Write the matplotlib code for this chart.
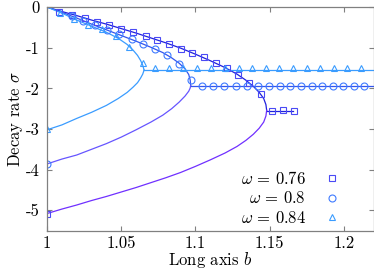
import matplotlib
matplotlib.use("Agg")
import matplotlib.pyplot as plt
from matplotlib.lines import Line2D

plt.rcParams['font.family'] = 'cmr10'
plt.rcParams['mathtext.fontset'] = 'cm'
plt.rcParams['axes.unicode_minus'] = False
plt.rcParams['axes.formatter.use_mathtext'] = True

# --- omega = 0.76 -------------------------------------------------------
b_076_up = [1.000, 1.010, 1.020, 1.030, 1.040, 1.050, 1.060, 1.070, 1.080, 1.090,
            1.100, 1.110, 1.120, 1.128, 1.134, 1.139, 1.143, 1.146, 1.1475, 1.148]
s_076_up = [0.00, -0.11, -0.21, -0.32, -0.42, -0.53, -0.64, -0.76, -0.88, -1.01,
            -1.16, -1.32, -1.49, -1.65, -1.80, -1.95, -2.10, -2.25, -2.40, -2.54]
s_076_lo = [-5.08, -4.97, -4.87, -4.76, -4.66, -4.55, -4.44, -4.32, -4.20, -4.07,
            -3.92, -3.76, -3.59, -3.43, -3.28, -3.13, -2.98, -2.83, -2.68, -2.54]
b_076_flat = [1.148, 1.166]
s_076_flat = [-2.55, -2.55]
b_076_pts = [1.0, 1.0081, 1.017, 1.0254, 1.0335, 1.0418, 1.050, 1.0582, 1.0665, 1.0743,
             1.0822, 1.0901, 1.098, 1.1058, 1.1137, 1.1215, 1.129, 1.1363, 1.144,
             1.1514, 1.1588, 1.1662]
s_076_pts = [-5.08, -0.11, -0.19, -0.26, -0.37, -0.43, -0.53, -0.62, -0.72, -0.82,
             -0.90, -1.02, -1.13, -1.23, -1.37, -1.51, -1.67, -1.86, -2.14,
             -2.56, -2.54, -2.55]

# --- omega = 0.8 --------------------------------------------------------
b_08_up = [1.000, 1.010, 1.020, 1.030, 1.040, 1.050, 1.060, 1.070, 1.078, 1.084,
           1.089, 1.093, 1.0955, 1.0965, 1.0968]
s_08_up = [0.00, -0.13, -0.27, -0.42, -0.56, -0.70, -0.84, -0.99, -1.12, -1.25,
           -1.38, -1.52, -1.66, -1.80, -1.93]
b_08_lo = [1.000, 1.010, 1.020, 1.030, 1.040, 1.050, 1.060, 1.070, 1.078, 1.084,
           1.089, 1.093, 1.0955, 1.0965, 1.0968]
s_08_lo = [-3.86, -3.74, -3.64, -3.50, -3.36, -3.20, -3.02, -2.83, -2.66, -2.50,
           -2.34, -2.19, -2.07, -1.99, -1.93]
b_08_flat = [1.0968, 1.23]
s_08_flat = [-1.93, -1.93]
b_08_pts = [1.0, 1.0166, 1.0245, 1.0323, 1.0402, 1.0487, 1.0571, 1.0649, 1.0730, 1.0811,
            1.0892, 1.0968, 1.1042, 1.1119, 1.1195, 1.1272, 1.1346, 1.1422, 1.1494,
            1.1568, 1.1638, 1.1709, 1.1784, 1.1855, 1.1927, 1.1997, 1.2067, 1.2136]
s_08_pts = [-3.86, -0.23, -0.35, -0.45, -0.56, -0.66, -0.78, -0.90, -1.03, -1.19,
            -1.41, -1.80, -1.93, -1.93, -1.93, -1.93, -1.93, -1.93, -1.93,
            -1.93, -1.93, -1.93, -1.93, -1.93, -1.93, -1.93, -1.93, -1.93]

# --- omega = 0.84 -------------------------------------------------------
b_084_up = [1.000, 1.010, 1.020, 1.030, 1.040, 1.048, 1.054, 1.058, 1.061, 1.063,
            1.0645, 1.0654]
s_084_up = [0.00, -0.15, -0.32, -0.47, -0.62, -0.77, -0.92, -1.06, -1.19, -1.31,
            -1.43, -1.55]
s_084_lo = [-3.02, -2.90, -2.74, -2.59, -2.42, -2.25, -2.10, -1.97, -1.86, -1.75,
            -1.65, -1.55]
b_084_flat = [1.0654, 1.23]
s_084_flat = [-1.55, -1.55]
b_084_pts = [1.0, 1.0088, 1.0182, 1.0276, 1.037, 1.0465, 1.0553, 1.0647,
             1.0728, 1.0819, 1.0914, 1.1013, 1.1105, 1.1199, 1.1292, 1.1383, 1.1474,
             1.1565, 1.1658, 1.175, 1.184, 1.1932, 1.2024, 1.2118]
s_084_pts = [-3.00, -0.15, -0.30, -0.43, -0.55, -0.72, -0.99, -1.38,
             -1.51, -1.51, -1.51, -1.51, -1.51, -1.51, -1.51, -1.51, -1.51,
             -1.51, -1.51, -1.51, -1.51, -1.51, -1.51, -1.51]

labels = [r'$\omega \,=\, 0.76$', r'$\omega \,=\, 0.8$', r'$\omega \,=\, 0.84$']

c076_up, c076_lo, c076_m = '#2020dd', '#7030ff', '#4a4af5'
c08_up, c08_lo, c08_m = '#3355ee', '#6655ff', '#3f7bff'
c084 = '#3a9cff'

fig = plt.figure(figsize=(3.74, 2.71), dpi=100)
ax = fig.add_axes([0.1257, 0.149, 0.873, 0.825])

lw = 0.9
ax.plot(b_076_up, s_076_up, color=c076_up, lw=lw)
ax.plot(b_076_up, s_076_lo, color=c076_lo, lw=lw)
ax.plot(b_076_flat, s_076_flat, color=c076_up, lw=lw)
ax.plot(b_08_up, s_08_up, color=c08_up, lw=lw)
ax.plot(b_08_lo, s_08_lo, color=c08_lo, lw=lw)
ax.plot(b_08_flat, s_08_flat, color=c08_up, lw=lw)
ax.plot(b_084_up, s_084_up, color=c084, lw=lw)
ax.plot(b_084_up, s_084_lo, color=c084, lw=lw)
ax.plot(b_084_flat, s_084_flat, color=c084, lw=lw)

mk = dict(ls='none', mfc='none', mew=0.8)
ax.plot(b_076_pts, s_076_pts, marker='s', ms=5, mec=c076_m, **mk)
ax.plot(b_08_pts, s_08_pts, marker='o', ms=5, mec=c08_m, **mk)
ax.plot(b_084_pts, s_084_pts, marker='^', ms=5, mec=c084, **mk)

ax.set_xlim(1.0, 1.22)
ax.set_ylim(-5.5, 0)
ax.set_xticks([1, 1.05, 1.1, 1.15, 1.2])
ax.set_xticklabels(['1', '1.05', '1.1', '1.15', '1.2'])
ax.set_yticks([0, -1, -2, -3, -4, -5])
ax.set_yticklabels(['0', '-1', '-2', '-3', '-4', '-5'])
ax.tick_params(direction='in', top=True, right=True, length=3.5, width=0.8,
               color='#808080', labelsize=12, pad=5)
ax.tick_params(axis='x', pad=3.5)
for sp in ax.spines.values():
    sp.set_color('#808080')
    sp.set_linewidth(0.9)

ax.set_xlabel(r'Long axis $b$', fontsize=12, labelpad=-0.5)
ax.set_ylabel(r'Decay rate $\sigma$', fontsize=12, labelpad=1)

handles = [Line2D([], [], marker='s', ms=5, mec=c076_m, **mk),
           Line2D([], [], marker='o', ms=5, mec=c08_m, **mk),
           Line2D([], [], marker='^', ms=5, mec=c084, **mk)]
leg = ax.legend(handles, labels, markerfirst=False, frameon=False, loc='lower right',
                bbox_to_anchor=(0.888, 0.02), fontsize=12, handlelength=0.6,
                handletextpad=1.25, labelspacing=0.22, borderaxespad=0.0, borderpad=0.0)

fig.savefig('out.png', dpi=100)
